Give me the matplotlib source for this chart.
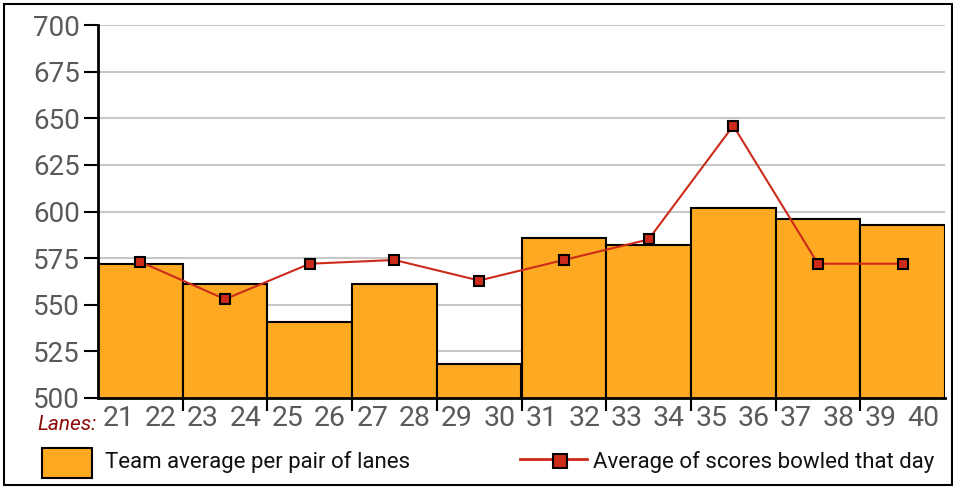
import numpy as np
import matplotlib.pyplot as plt
from matplotlib.patches import Rectangle
from matplotlib.lines import Line2D

plt.rcParams['font.family'] = ['Roboto', 'DejaVu Sans']

lanes = list(range(21, 41))
team_avg = [572, 561, 541, 561, 518, 586, 582, 602, 596, 593]
day_avg = [573, 553, 572, 574, 563, 574, 585, 646, 572, 572]
y_ticks = [500, 525, 550, 575, 600, 625, 650, 675, 700]

BAR_COLOR = '#FDAA22'
LINE_COLOR = '#CC2A1A'

fig = plt.figure(figsize=(9.54, 4.87), dpi=100)
ax = fig.add_axes([98/954, 1 - 398/487, (945-98)/954, (398-25)/487])

x = np.arange(len(team_avg))
ax.bar(x, team_avg, width=1.0, color=BAR_COLOR, edgecolor='black', lw=1.5, zorder=2)
ax.plot(x, day_avg, color=LINE_COLOR, lw=1.5, marker='s', ms=7,
        mfc=LINE_COLOR, mec='black', mew=1.5, zorder=3)

ax.set_xlim(-0.5, len(team_avg) - 0.5)
ax.set_ylim(500, 700)
ax.set_yticks(y_ticks)
ax.yaxis.grid(True, color='#c8c8c8', lw=1.5, zorder=0)
ax.set_axisbelow(True)

# major ticks at the bar boundaries, one lane number per half bar
ax.set_xticks(x[:-1] + 0.5)
ax.set_xticklabels([])
lane_pos = np.ravel(np.column_stack([x - 0.26, x + 0.24]))
ax.set_xticks(lane_pos, minor=True)
ax.set_xticklabels([str(n) for n in lanes], minor=True)
ax.tick_params(axis='x', which='major', length=9, width=1.5, color='black', direction='out')
ax.tick_params(axis='x', which='minor', length=0, pad=5, labelsize=20.5, labelcolor='#5a5a5a')
ax.tick_params(axis='y', length=10, width=1.5, color='black', pad=3,
               labelsize=20, labelcolor='#5a5a5a')

for s in ['top', 'right']:
    ax.spines[s].set_visible(False)
for s in ['left', 'bottom']:
    ax.spines[s].set_linewidth(2)

fig.text(37/954, 1 - 424/487, 'Lanes:', color='#8B0A0A', fontsize=15,
         style='italic', va='center', ha='left')

# legend
fig.patches.append(Rectangle((42/954, 1 - 478/487), 50/954, 30/487,
                             transform=fig.transFigure, facecolor=BAR_COLOR,
                             edgecolor='black', lw=1.5))
fig.text(105/954, 1 - 462/487, 'Team average per pair of lanes', fontsize=16,
         va='center', ha='left', color='#111111')
fig.lines.append(Line2D([520/954, 587/954], [1 - 459/487, 1 - 459/487],
                        transform=fig.transFigure, color=LINE_COLOR, lw=2))
fig.lines.append(Line2D([560/954], [1 - 461/487], transform=fig.transFigure,
                        marker='s', ms=10, mfc=LINE_COLOR, mec='black', mew=1.5))
fig.text(593/954, 1 - 462/487, 'Average of scores bowled that day', fontsize=16,
         va='center', ha='left', color='#111111')

# outer frame
fig.patches.append(Rectangle((4/954, 2/487), 948/954, 481/487,
                             transform=fig.transFigure, fill=False,
                             edgecolor='black', lw=1.5))

fig.savefig('out.png', dpi=100)
